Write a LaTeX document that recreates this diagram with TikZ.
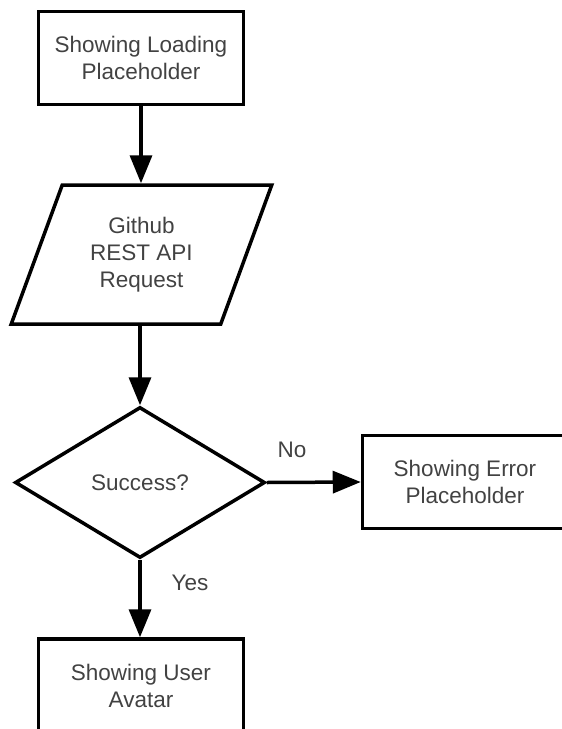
\documentclass[tikz,border=0pt]{standalone}
\usepackage{fontspec}
\setmainfont{Liberation Sans}
\usetikzlibrary{arrows.meta,shapes.geometric}
\definecolor{labelgray}{RGB}{66,66,66}
\begin{document}
\begin{tikzpicture}[x=1pt,y=1pt,
  every node/.style={font=\fontsize{22.5}{27}\selectfont, text=labelgray, align=center},
  outline/.style={draw=black, line width=3.5pt, inner sep=0pt},
  procbox/.style={outline, rectangle, minimum width=205pt, minimum height=93pt},
  iobody/.style={rectangle, inner sep=0pt, outer sep=1.75pt, minimum width=210pt, minimum height=139pt},
  decision/.style={outline, diamond, minimum width=250pt, minimum height=151pt},
  flow/.style={draw=black, line width=3.5pt, -{Triangle[length=28pt,width=22pt]}},
  tag/.style={inner sep=0pt}
]
\useasboundingbox (0,0) rectangle (562,-729);
\clip (0,0) rectangle (562,-729);

% flowchart steps
\node[procbox] (loading) at (141,-58) {Showing Loading\\Placeholder};
\node[iobody] (request) at (141.5,-254.5) {Github\\REST API\\Request};
% slanted input/output outline around the request node
\draw[black, line width=3.5pt, line join=miter]
  ([shift={(27.5,-1.75)}]request.north west) -- ([shift={(23.5,-1.75)}]request.north east)
  -- ([shift={(-27.5,1.75)}]request.south east) -- ([shift={(-23.5,1.75)}]request.south west) -- cycle;
\node[decision] (success) at (140,-482.5) {Success?};
\node[procbox] (error) at (465,-482) {Showing Error\\Placeholder};
\node[procbox] (avatar) at (141,-685.5) {Showing User\\Avatar};

% connectors
\draw[flow] (loading.south) -- (request.north -| loading.south);
\draw[flow] (request.south -| success.north) -- (success.north);
\draw[flow] (success.east) -- (error.west);
\draw[flow] (success.south) -- (avatar.north -| success.south);

% branch labels
\node[tag] (nolabel) at (292,-450) {No};
\node[tag] (yeslabel) at (190,-583) {Yes};
\end{tikzpicture}
\end{document}
